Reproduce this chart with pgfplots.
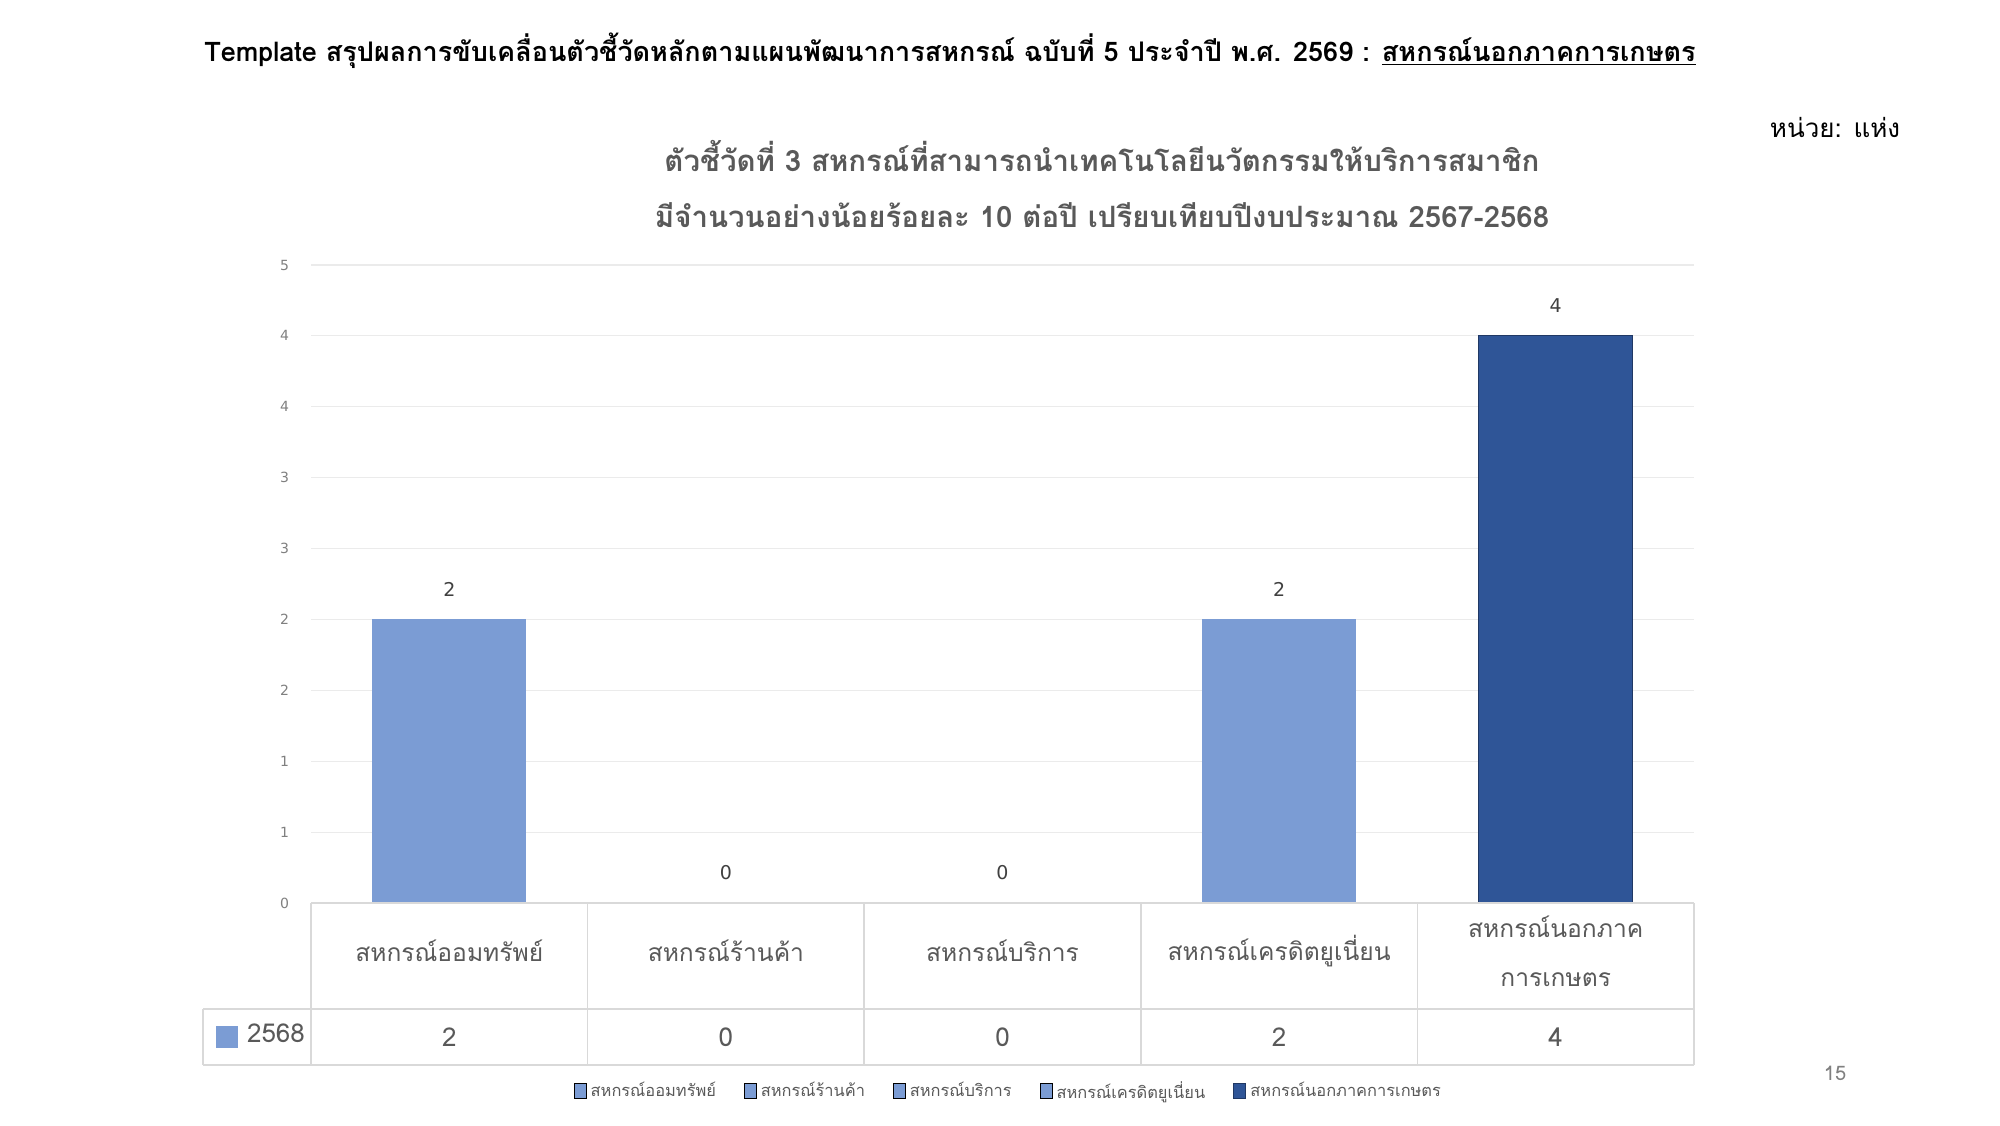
\documentclass[border=0pt]{standalone}
\usepackage{fontspec}
\setmainfont{Loma}[Script=Thai]
\newfontfamily\numfont{DejaVu Sans}
\usepackage{pgfplots}
\pgfplotsset{compat=1.18}

\definecolor{barlight}{HTML}{7B9CD4}
\definecolor{bardark}{HTML}{2F5597}
\definecolor{bardarkedge}{HTML}{203864}
\definecolor{txtgray}{HTML}{595959}
\definecolor{lblgray}{HTML}{404040}
\definecolor{gridgray}{HTML}{EBEBEB}
\definecolor{tblgray}{HTML}{D9D9D9}

\begin{document}
\begin{tikzpicture}[x=1pt,y=1pt]
\path[use as bounding box, fill=white] (0,0) rectangle (1000,562.5);

% page title
\node at (475,537) {\bfseries\fontsize{13.5}{16}\selectfont Template สรุปผลการขับเคลื่อนตัวชี้วัดหลักตามแผนพัฒนาการสหกรณ์ ฉบับที่ 5 ประจำปี พ.ศ. 2569 : \underline{สหกรณ์นอกภาคการเกษตร}};
\node at (917.5,498.5) {\fontsize{13}{15}\selectfont หน่วย: แห่ง};
\node[text=txtgray] at (551,484.5) {\bfseries\fontsize{14.7}{17}\selectfont ตัวชี้วัดที่ 3 สหกรณ์ที่สามารถนำเทคโนโลยีนวัตกรรมให้บริการสมาชิก};
\node[text=txtgray] at (551,455) {\bfseries\fontsize{14.7}{17}\selectfont มีจำนวนอย่างน้อยร้อยละ 10 ต่อปี เปรียบเทียบปีงบประมาณ 2567-2568};
\node[text=gray] at (917.5,26) {\fontsize{10}{12}\selectfont 15};

\begin{axis}[
    at={(155.5pt,111pt)}, anchor=south west,
    scale only axis,
    width=691.5pt, height=319pt,
    xmin=-0.5, xmax=4.5, ymin=0, ymax=4.5,
    axis line style={draw=none},
    major tick length=0pt,
    /pgf/number format/assume math mode=true,
    ytick={0,0.5,...,4.5},
    yticklabels={0,1,1,2,2,3,3,4,4,5},
    ymajorgrids=true,
    grid style={gridgray, line width=0.6pt},
    y tick label style={font=\numfont\fontsize{7}{8}\selectfont, text=gray, xshift=-7.5pt},
    xtick={0,1,2,3,4},
    xticklabels={สหกรณ์ออมทรัพย์, สหกรณ์ร้านค้า, สหกรณ์บริการ, สหกรณ์เครดิตยูเนี่ยน, {สหกรณ์นอกภาค\\การเกษตร}},
    x tick label style={anchor=center, yshift=-24pt, align=center, text=txtgray, font=\fontsize{12.3}{24.5}\selectfont},
    ybar,
    bar width=77pt,
    clip=false,
    sqlegend/.style={legend image code/.code={\draw[##1] (0pt,-3.75pt) rectangle (6pt,3.75pt);}},
    barlabel/.style={nodes near coords, point meta=y,
        every node near coord/.append style={font=\numfont\fontsize{9.5}{11}\selectfont, text=lblgray, yshift=8pt}},
    legend style={at={(0.505,-0.295)}, anchor=center, draw=none, fill=none,
        font=\fontsize{8.2}{10}\selectfont, text=txtgray,
        /tikz/every even column/.append style={column sep=12pt}},
    legend columns=5,
]

% 2568
\addplot[bar shift=0pt, fill=barlight, draw=none, barlabel, sqlegend] coordinates {(0,2)};
\addplot[bar shift=0pt, fill=barlight, draw=none, barlabel, sqlegend] coordinates {(1,0)};
\addplot[bar shift=0pt, fill=barlight, draw=none, barlabel, sqlegend] coordinates {(2,0)};
\addplot[bar shift=0pt, fill=barlight, draw=none, barlabel, sqlegend] coordinates {(3,2)};
\addplot[bar shift=0pt, fill=bardark, draw=bardarkedge, line width=0.6pt, barlabel, sqlegend] coordinates {(4,4)};

% values row of the data table
\addplot[forget plot, bar shift=0pt, draw=none, fill=none,
    nodes near coords, point meta=explicit,
    nodes near coords align={center},
    every node near coord/.append style={anchor=center, text=txtgray, font=\fontsize{13}{15}\selectfont}]
    coordinates {(0,-0.945) [2] (1,-0.945) [0] (2,-0.945) [0] (3,-0.945) [2] (4,-0.945) [4]};

\legend{สหกรณ์ออมทรัพย์, สหกรณ์ร้านค้า, สหกรณ์บริการ, สหกรณ์เครดิตยูเนี่ยน, สหกรณ์นอกภาคการเกษตร}
\end{axis}

% data table grid
\draw[tblgray, line width=1.2pt] (155.5,111) -- (847,111);
\draw[tblgray, line width=0.8pt] (101.5,58) -- (847,58);
\draw[tblgray, line width=0.8pt] (101.5,30) -- (847,30);
\draw[tblgray, line width=0.8pt] (101.5,58) -- (101.5,30);
\foreach \k in {0,...,5} {
  \draw[tblgray, line width=0.8pt] ({155.5+138.3*\k},111) -- ({155.5+138.3*\k},30);
}
\fill[barlight] (108,38.5) rectangle (119,49.5);
\node[text=txtgray] at (138,46) {\fontsize{13}{15}\selectfont 2568};
\end{tikzpicture}
\end{document}
